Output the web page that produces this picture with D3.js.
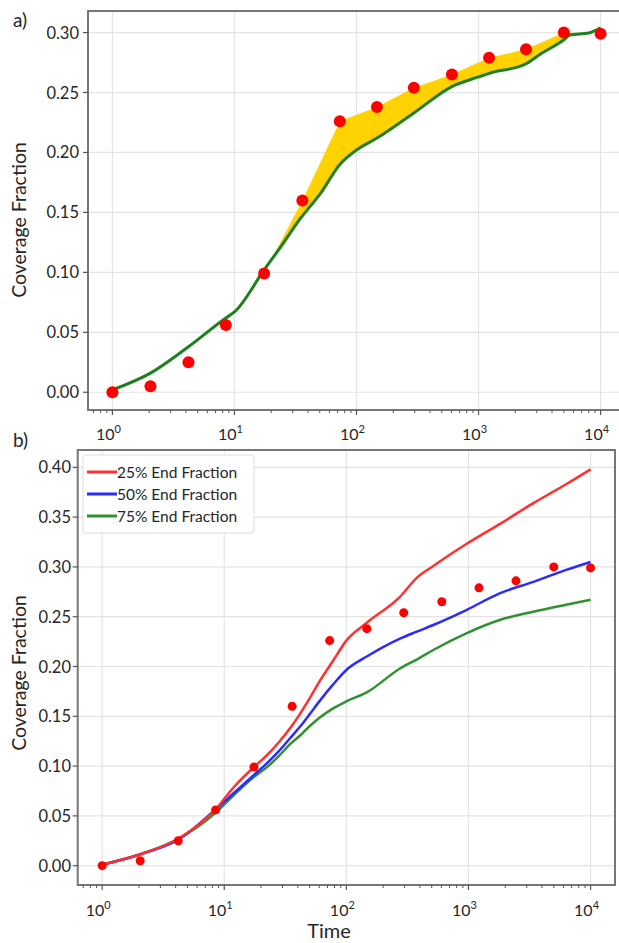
<!DOCTYPE html>
<html>
<head>
<meta charset="utf-8">
<script src="https://cdn.jsdelivr.net/npm/d3@7"></script>
<style>
  body { margin: 0; background: #fff; }
  text { font-family: Lato, "Open Sans", sans-serif; fill: #262626; }
</style>
</head>
<body>
<div id="canvas"></div>
<script>
// measured points (red dots), same in both panels
const dotTimes = [1, 2.05, 4.2, 8.5, 17.5, 36, 73, 147, 295, 605, 1220, 2450, 5000, 10000];
const dotCoverage = [0, 0.005, 0.025, 0.056, 0.099, 0.160, 0.226, 0.238, 0.254, 0.265, 0.279, 0.286, 0.300, 0.299];

// panel a) simulated curve
const simTimesA = [1, 2.05, 4.2, 8.5, 10, 17.5, 25, 34.4, 41.7, 50, 73, 100, 147, 295, 605, 1000, 1220, 2450, 3200, 5000, 5600, 8000, 10000];
const simCoverageA = [0.002, 0.016, 0.038, 0.062, 0.067, 0.102, 0.124, 0.1445, 0.155, 0.165, 0.190, 0.202, 0.212, 0.233, 0.255, 0.263, 0.266, 0.274, 0.282, 0.294, 0.298, 0.2997, 0.304];

// panel b) three end fractions
const simTimesB = [1, 2, 4.2, 8.4, 12, 17.5, 22.4, 28, 34.6, 42, 50, 61, 78, 100, 147, 275, 377, 515, 960, 1800, 3400, 6300, 10000];
const sim25 = [0.001, 0.011, 0.027, 0.056, 0.079, 0.099, 0.111, 0.124, 0.138, 0.153, 0.168, 0.186, 0.206, 0.226, 0.244, 0.270, 0.289, 0.301, 0.323, 0.343, 0.364, 0.383, 0.398];
const sim50 = [0.001, 0.011, 0.026, 0.056, 0.073, 0.091, 0.103, 0.115, 0.128, 0.140, 0.152, 0.166, 0.182, 0.1965, 0.210, 0.228, 0.235, 0.2417, 0.2567, 0.2735, 0.285, 0.297, 0.305];
const sim75 = [0.001, 0.011, 0.027, 0.0526, 0.071, 0.089, 0.099, 0.110, 0.122, 0.131, 0.140, 0.149, 0.158, 0.165, 0.174, 0.198, 0.207, 0.2166, 0.2333, 0.2467, 0.255, 0.262, 0.267];
const legendLabels = ["25% End Fraction", "50% End Fraction", "75% End Fraction"];

const xTicks = [1, 10, 100, 1000, 10000];
const yTicksA = [0, 0.05, 0.10, 0.15, 0.20, 0.25, 0.30];
const yTicksB = [0, 0.05, 0.10, 0.15, 0.20, 0.25, 0.30, 0.35, 0.40];

const svg = d3.select("#canvas").append("svg")
  .attr("width", 619)
  .attr("height", 943);

const minorTicks = [];
for (let e = -1; e <= 4; e++) for (let m = 2; m <= 9; m++) minorTicks.push(m * Math.pow(10, e));

const drawPanel = (p) => {
  const { x, y, yTicks, yLabelX, tickLabelX, labelY, title, titleY, axisY } = p;
  const g = svg.append("g");
  const [xl, xr] = x.range();
  const [yb, yt] = y.range();

  // grid
  g.selectAll(".gx").data(xTicks).enter().append("line")
    .attr("x1", d => x(d)).attr("x2", d => x(d))
    .attr("y1", yt).attr("y2", yb)
    .attr("stroke", "#e4e4e4").attr("stroke-width", 1.2);
  g.selectAll(".gy").data(yTicks).enter().append("line")
    .attr("x1", xl).attr("x2", xr)
    .attr("y1", d => y(d)).attr("y2", d => y(d))
    .attr("stroke", "#e4e4e4").attr("stroke-width", 1.2);

  // frame
  g.append("rect")
    .attr("x", xl).attr("y", yt)
    .attr("width", xr - xl).attr("height", yb - yt)
    .attr("fill", "none").attr("stroke", "#777").attr("stroke-width", 2);

  // x ticks
  const vis = minorTicks.filter(d => x(d) >= xl && x(d) <= xr);
  g.selectAll(".mt").data(vis).enter().append("line")
    .attr("x1", d => x(d)).attr("x2", d => x(d))
    .attr("y1", yb).attr("y2", yb + 3)
    .attr("stroke", "#555").attr("stroke-width", 1);
  g.selectAll(".Mt").data(xTicks).enter().append("line")
    .attr("x1", d => x(d)).attr("x2", d => x(d))
    .attr("y1", yb).attr("y2", yb + 5)
    .attr("stroke", "#555").attr("stroke-width", 1.2);
  const xl_ = g.selectAll(".xl").data(xTicks).enter().append("text")
    .attr("x", d => x(d) - 4).attr("y", axisY)
    .attr("text-anchor", "middle")
    .attr("font-size", 16);
  xl_.append("tspan").text("10");
  xl_.append("tspan").attr("dy", -7).attr("font-size", 11).text(d => Math.round(Math.log10(d)));

  // y ticks
  g.selectAll(".yt").data(yTicks).enter().append("line")
    .attr("x1", xl - 5).attr("x2", xl)
    .attr("y1", d => y(d)).attr("y2", d => y(d))
    .attr("stroke", "#555").attr("stroke-width", 1.2);
  g.selectAll(".yl").data(yTicks).enter().append("text")
    .attr("x", tickLabelX).attr("y", d => y(d) + 6)
    .attr("text-anchor", "end")
    .attr("font-size", 16.5)
    .text(d => d3.format(".2f")(d));

  svg.append("text")
    .attr("transform", `translate(${yLabelX},${labelY}) rotate(-90)`)
    .attr("text-anchor", "middle")
    .attr("font-size", 19.5)
    .text("Coverage Fraction");

  svg.append("text")
    .attr("x", 13).attr("y", titleY)
    .attr("font-size", 19)
    .text(title);
  return g;
};

// ---------- panel a ----------
const xA = d3.scaleLog().domain([Math.pow(10, -0.2), Math.pow(10, 4.2)]).range([88, 625]);
const yA = d3.scaleLinear().domain([-0.0148, 0.318]).range([410, 11]);
const gA = drawPanel({ x: xA, y: yA, yTicks: yTicksA, yLabelX: 26, tickLabelX: 79, labelY: 220, title: "a)", titleY: 27, axisY: 440 });

const simA = simTimesA.map((t, i) => ({ t, v: simCoverageA[i] }));
const dots = dotTimes.map((t, i) => ({ t, v: dotCoverage[i] }));

// yellow region: under the dot polyline and above the simulated curve
const clipAbove = d3.area().curve(d3.curveMonotoneX)
  .x(d => xA(d.t)).y0(d => yA(d.v)).y1(0);
svg.append("clipPath").attr("id", "above")
  .append("path").attr("d", clipAbove(simA));

gA.append("path")
  .attr("clip-path", "url(#above)")
  .attr("d", d3.area().x(d => xA(d.t)).y0(410).y1(d => yA(d.v))(dots))
  .attr("fill", "#ffd200");

gA.append("path")
  .attr("d", d3.line().curve(d3.curveMonotoneX).x(d => xA(d.t)).y(d => yA(d.v))(simA))
  .attr("fill", "none").attr("stroke", "#1e7f1e").attr("stroke-width", 3);

gA.selectAll(".dot").data(dots).enter().append("circle")
  .attr("cx", d => xA(d.t)).attr("cy", d => yA(d.v)).attr("r", 6)
  .attr("fill", "#ff0000");

// ---------- panel b ----------
const xB = d3.scaleLog().domain([Math.pow(10, -0.2), Math.pow(10, 4.2)]).range([77.7, 615]);
const yB = d3.scaleLinear().domain([-0.0194, 0.4174]).range([885, 450]);
const gB = drawPanel({ x: xB, y: yB, yTicks: yTicksB, yLabelX: 26, tickLabelX: 71, labelY: 673, title: "b)", titleY: 447, axisY: 916 });

const seriesB = [sim25, sim50, sim75];
const colorsB = ["#ff3030", "#2b2bff", "#2f922f"];
const lineB = d3.line().curve(d3.curveMonotoneX).x(d => xB(d.t)).y(d => yB(d.v));
[2, 1, 0].forEach(k => {
  gB.append("path")
    .attr("d", lineB(simTimesB.map((t, i) => ({ t, v: seriesB[k][i] }))))
    .attr("fill", "none").attr("stroke", colorsB[k]).attr("stroke-width", 2.5);
});

gB.selectAll(".dot").data(dots).enter().append("circle")
  .attr("cx", d => xB(d.t)).attr("cy", d => yB(d.v)).attr("r", 4.5)
  .attr("fill", "#ff0000");

svg.append("text")
  .attr("x", 329).attr("y", 938)
  .attr("text-anchor", "middle")
  .attr("font-size", 20)
  .text("Time");

// legend
const leg = svg.append("g");
leg.append("rect")
  .attr("x", 83).attr("y", 455).attr("width", 171).attr("height", 78)
  .attr("rx", 3).attr("fill", "#fff").attr("fill-opacity", 0.9)
  .attr("stroke", "#ddd");
legendLabels.forEach((l, i) => {
  const yy = 472 + i * 22;
  leg.append("line").attr("x1", 87).attr("x2", 117).attr("y1", yy).attr("y2", yy)
    .attr("stroke", colorsB[i]).attr("stroke-width", 3);
  leg.append("text").attr("x", 117).attr("y", yy + 5.5)
    .attr("font-size", 15.5).text(l);
});
</script>
</body>
</html>
